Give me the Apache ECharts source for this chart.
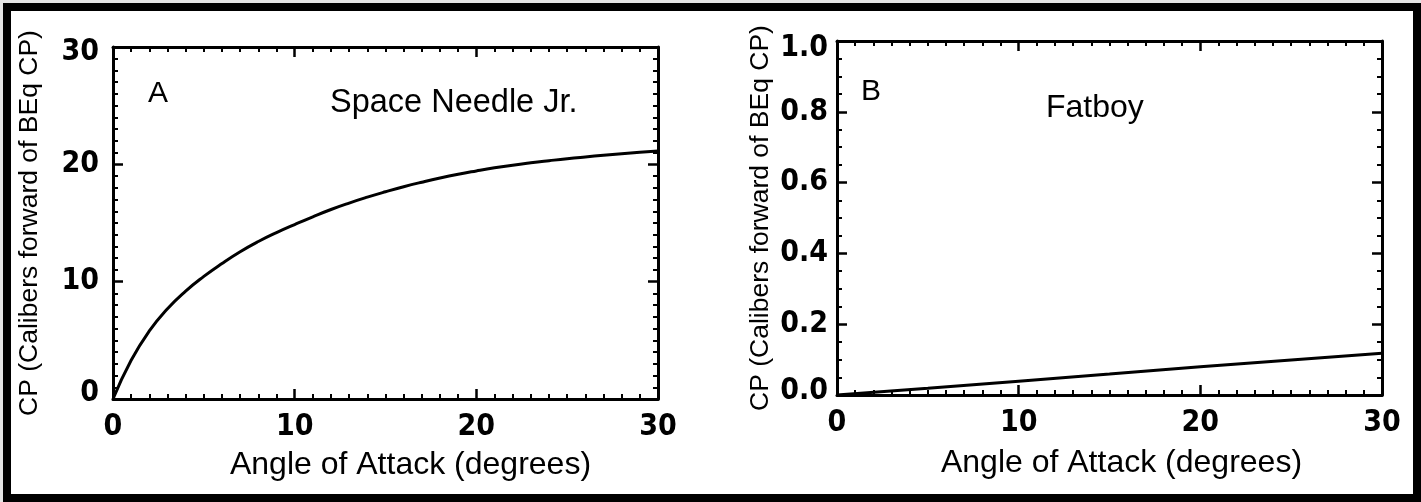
<!DOCTYPE html>
<html><head><meta charset="utf-8">
<script src="https://cdn.jsdelivr.net/npm/echarts@6/dist/echarts.min.js"></script>
<style>html,body{margin:0;padding:0;background:#fff}#c{width:1421px;height:502px}</style>
</head><body><div id="c"></div>
<script>
// ---- data ----
const anglesA = [0,1,2,3,4,5,6,7,8,9,10,11,12,13,14,15,16,17,18,19,20,21,22,23,24,25,26,27,28,29,30];
const cpA = [0,3.3,5.8,7.7,9.2,10.45,11.55,12.55,13.42,14.18,14.87,15.53,16.15,16.70,17.20,17.66,18.09,18.48,18.84,19.16,19.44,19.70,19.93,20.13,20.31,20.48,20.63,20.77,20.90,21.02,21.13];
const anglesB = [0,5,10,15,20,25,30];
const cpB = [0,0.019,0.039,0.059,0.080,0.099,0.118];
const xTickValues = [0,10,20,30];
const yTicksA = [0,10,20,30];
const yTicksB = [0,0.2,0.4,0.6,0.8,1.0];
const xAxisTitle = 'Angle of Attack (degrees)';
const yAxisTitle = 'CP (Calibers forward of BEq CP)';
const panelLetters = ['A','B'];
const panelNames = ['Space Needle Jr.','Fatboy'];

const NARROW = "'Liberation Sans Narrow','Arial Narrow','DejaVu Sans Condensed',sans-serif";
const SANS = "'Liberation Sans',Arial,Helvetica,sans-serif";

function pairs(xs, ys){ return xs.map((x,i)=>[x,ys[i]]); }

const tickFont = {color:'#000', fontFamily:NARROW, fontWeight:'bold', fontSize:30};

function xAxisCfg(gridIndex, pos, show, nameGap, namePad){
  return {
    type:'value', gridIndex, position:pos,
    min:xTickValues[0], max:xTickValues[xTickValues.length-1], interval:xTickValues[1]-xTickValues[0],
    name: show ? xAxisTitle : '', nameLocation:'middle', nameGap:nameGap,
    nameTextStyle:{color:'#000', fontFamily:SANS, fontSize:32, padding:namePad},
    axisLine:{show:true, onZero:false, lineStyle:{color:'#000', width:3}},
    axisTick:{show:true, inside:true, length:10, lineStyle:{color:'#000', width:2.5}},
    minorTick:{show:true, splitNumber:10, length:5, lineStyle:{color:'#000', width:2}},
    splitLine:{show:false}, minorSplitLine:{show:false},
    axisLabel:Object.assign({show:show, margin:13}, tickFont)
  };
}

function yAxisCfg(gridIndex, pos, show, ticks, minor, nameGap, margin, padTop, padBot, fmt){
  const mn = ticks[0], mx = ticks[ticks.length-1];
  return {
    type:'value', gridIndex, position:pos,
    min:mn, max:mx, interval:ticks[1]-ticks[0],
    name: show ? yAxisTitle : '', nameLocation:'middle', nameGap:nameGap,
    nameTextStyle:{color:'#000', fontFamily:SANS, fontSize:26.5},
    axisLine:{show:true, onZero:false, lineStyle:{color:'#000', width:3}},
    axisTick:{show:true, inside:true, length:10, lineStyle:{color:'#000', width:2.5}},
    minorTick:{show:true, splitNumber:minor, length:5, lineStyle:{color:'#000', width:2}},
    splitLine:{show:false}, minorSplitLine:{show:false},
    axisLabel:Object.assign({show:show, margin:margin,
      formatter:function(v){
        const s = fmt(v);
        if (Math.abs(v-mx) < 1e-9) return '{t|'+s+'}';
        if (Math.abs(v-mn) < 1e-9) return '{b|'+s+'}';
        return s;
      },
      rich:{
        t:Object.assign({padding:[padTop,0,0,0]}, tickFont),
        b:Object.assign({padding:[0,0,padBot,0]}, tickFont)
      }
    }, tickFont)
  };
}

const option = {
  backgroundColor:'#e4e4e4',
  animation:false,
  graphic:[{type:'rect', z:-10, shape:{x:7, y:7, width:1410, height:491},
    style:{fill:'#fff', stroke:'#000', lineWidth:8}}],
  title:[
    {text:panelLetters[0], left:148, top:79, padding:0, textStyle:{fontFamily:SANS, fontWeight:'normal', fontSize:30, color:'#000'}},
    {text:panelNames[0], left:330, top:87, padding:0, textStyle:{fontFamily:SANS, fontWeight:'normal', fontSize:32.5, color:'#000'}},
    {text:panelLetters[1], left:861, top:77, padding:0, textStyle:{fontFamily:SANS, fontWeight:'normal', fontSize:30, color:'#000'}},
    {text:panelNames[1], left:1046, top:92, padding:0, textStyle:{fontFamily:SANS, fontWeight:'normal', fontSize:32, color:'#000'}}
  ],
  grid:[
    {left:113, right:763, top:47, bottom:103},
    {left:837, right:39, top:41, bottom:107}
  ],
  xAxis:[
    xAxisCfg(0,'bottom',true,50,[0,0,0,50]),
    xAxisCfg(0,'top',false,0,0),
    xAxisCfg(1,'bottom',true,52,[0,0,0,24]),
    xAxisCfg(1,'top',false,0,0)
  ],
  yAxis:[
    yAxisCfg(0,'left',true,yTicksA,10,70,14,11,12,v=>String(v)),
    yAxisCfg(0,'right',false,yTicksA,10,0,0,0,0,v=>String(v)),
    yAxisCfg(1,'left',true,yTicksB,4,63,9,14,8,v=>v.toFixed(1)),
    yAxisCfg(1,'right',false,yTicksB,4,0,0,0,0,v=>v.toFixed(1))
  ],
  series:[
    {type:'line', xAxisIndex:0, yAxisIndex:0, data:pairs(anglesA,cpA), smooth:true, showSymbol:false, symbol:'none',
      lineStyle:{color:'#000', width:3}},
    {type:'line', xAxisIndex:2, yAxisIndex:2, data:pairs(anglesB,cpB), smooth:false, showSymbol:false, symbol:'none',
      lineStyle:{color:'#000', width:3}}
  ]
};
const chart = echarts.init(document.getElementById('c'), null, {renderer:'canvas'});
chart.setOption(option);
</script></body></html>
